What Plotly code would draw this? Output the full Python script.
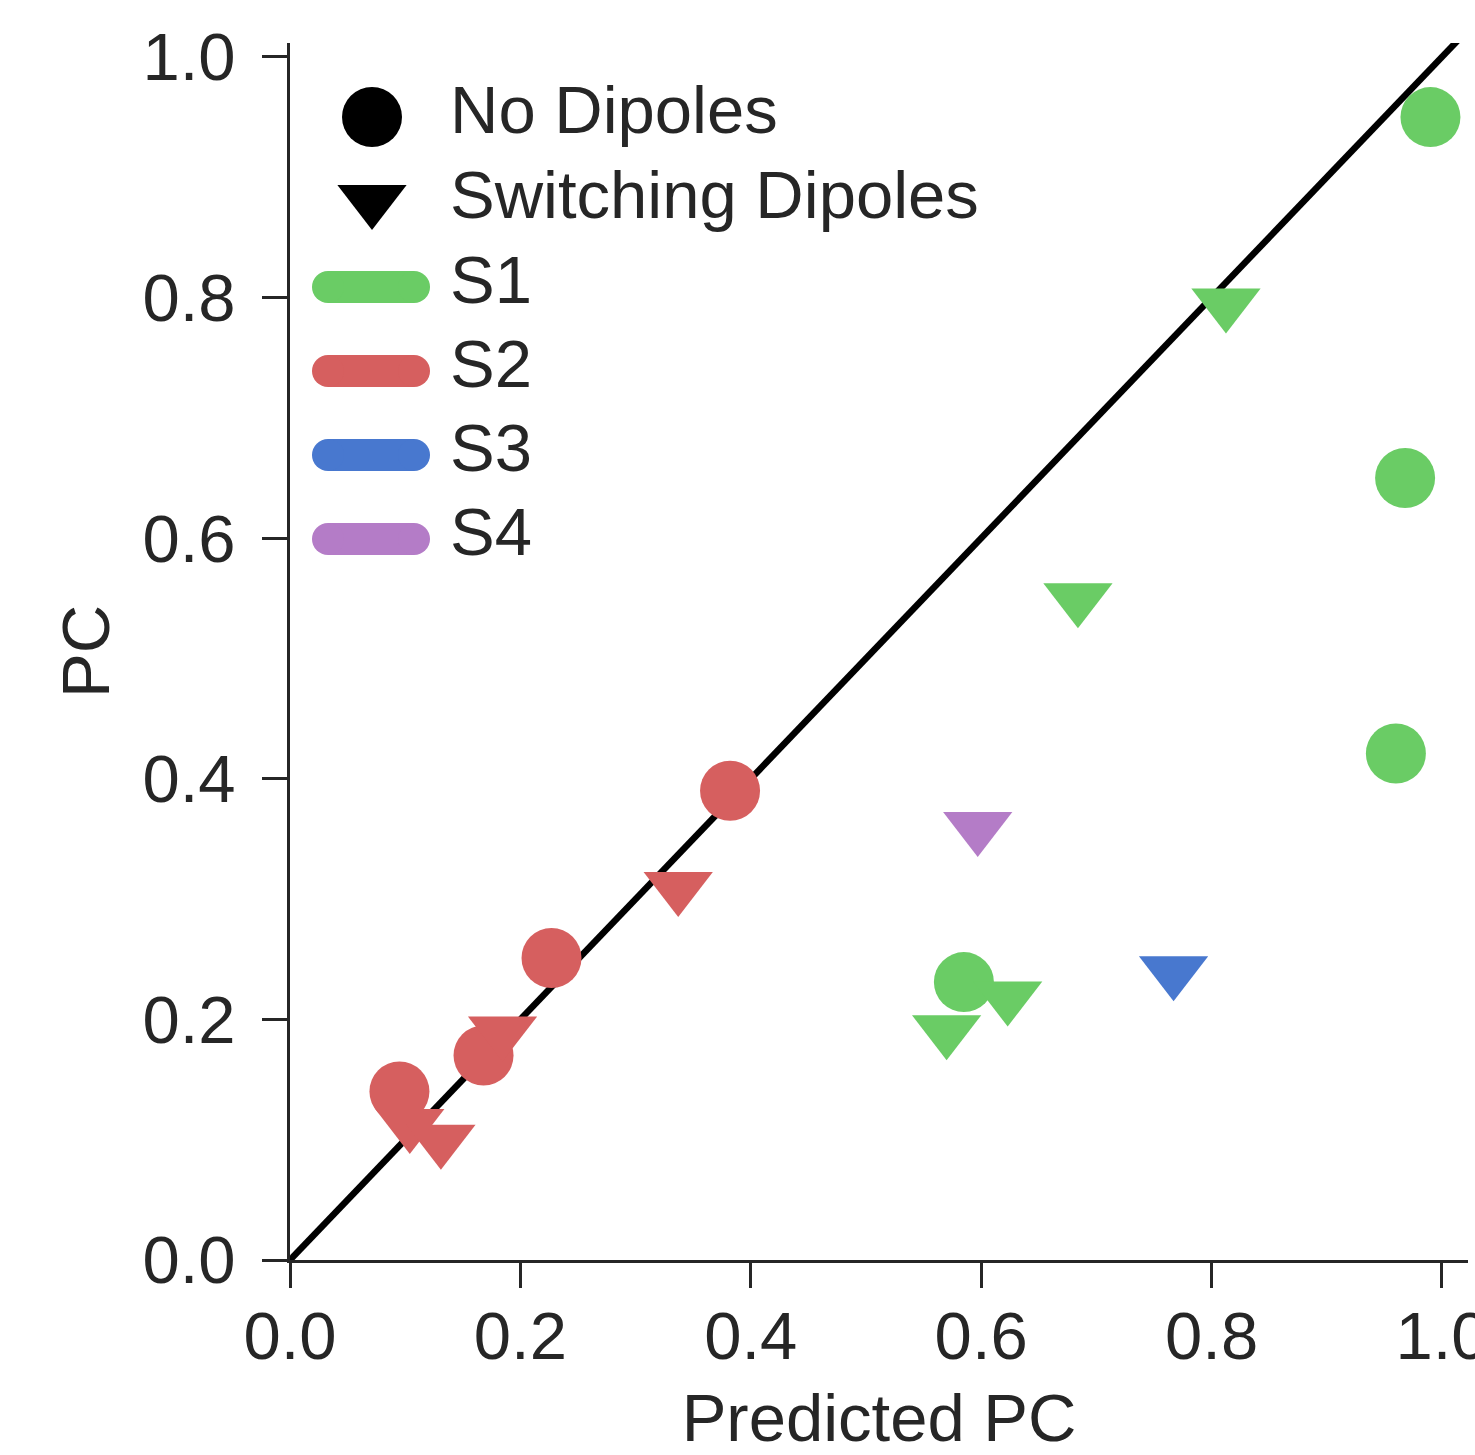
import plotly.graph_objects as go

# ---- data ----
s1_nodip_x = [0.990, 0.968, 0.960, 0.585]
s1_nodip_y = [0.950, 0.650, 0.421, 0.231]
s1_switch_x = [0.8125, 0.684, 0.570, 0.623]
s1_switch_y = [0.795, 0.550, 0.191, 0.219]

s2_nodip_x = [0.095, 0.168, 0.227, 0.382]
s2_nodip_y = [0.140, 0.170, 0.251, 0.390]
s2_switch_x = [0.104, 0.131, 0.1845, 0.337]
s2_switch_y = [0.113, 0.100, 0.190, 0.310]

s3_switch_x = [0.767]
s3_switch_y = [0.240]

s4_switch_x = [0.597]
s4_switch_y = [0.360]

identity_x = [0.0, 1.1]
identity_y = [0.0, 1.1]

series_names = ["S1", "S2", "S3", "S4"]
series_colors = ["#6ACC65", "#D65F5F", "#4878CF", "#B47CC7"]
marker_names = ["No Dipoles", "Switching Dipoles"]

tick_vals = [0.0, 0.2, 0.4, 0.6, 0.8, 1.0]
tick_text = ["0.0", "0.2", "0.4", "0.6", "0.8", "1.0"]

FONT = "Liberation Sans, Arial, Helvetica, sans-serif"
TXT = "#262626"
FS = 67
CIRC = 60
TRI = 60

fig = go.Figure()

# identity line
fig.add_trace(go.Scatter(x=identity_x, y=identity_y, mode="lines",
                         line=dict(color="black", width=6.5), showlegend=False,
                         hoverinfo="skip"))

groups = [
    (s1_nodip_x, s1_nodip_y, "circle", CIRC, 0),
    (s1_switch_x, s1_switch_y, "triangle-down", TRI, 0),
    (s2_nodip_x, s2_nodip_y, "circle", CIRC, 1),
    (s2_switch_x, s2_switch_y, "triangle-down", TRI, 1),
    (s3_switch_x, s3_switch_y, "triangle-down", TRI, 2),
    (s4_switch_x, s4_switch_y, "triangle-down", TRI, 3),
]
for gx, gy, sym, sz, ci in groups:
    fig.add_trace(go.Scatter(x=gx, y=gy, mode="markers",
                             marker=dict(symbol=sym, size=sz, color=series_colors[ci],
                                         line=dict(width=0)),
                             showlegend=False, cliponaxis=False))

# ---- custom legend drawn on an overlay axis in pixel units ----
leg_sym_x = [372]
leg_rows_y = [117, 200]
fig.add_trace(go.Scatter(x=leg_sym_x, y=[leg_rows_y[0]], xaxis="x2", yaxis="y2", mode="markers",
                         marker=dict(symbol="circle", size=CIRC, color="black"),
                         showlegend=False, hoverinfo="skip"))
fig.add_trace(go.Scatter(x=leg_sym_x, y=[leg_rows_y[1]], xaxis="x2", yaxis="y2", mode="markers",
                         marker=dict(symbol="triangle-down", size=TRI, color="black"),
                         showlegend=False, hoverinfo="skip"))
bar_x = [328, 414]
bar_rows_y = [287, 371, 455, 539]
for by, col in zip(bar_rows_y, series_colors):
    fig.add_trace(go.Scatter(x=bar_x, y=[by, by], xaxis="x2", yaxis="y2", mode="lines+markers",
                             line=dict(color=col, width=32),
                             marker=dict(symbol="circle", size=32, color=col),
                             showlegend=False, hoverinfo="skip"))

annotations = []
for name, yy in zip(marker_names, [109, 194]):
    annotations.append(dict(x=448, y=yy, xref="x2", yref="y2", text=name, showarrow=False,
                            xanchor="left", yanchor="middle",
                            font=dict(family=FONT, size=FS, color=TXT)))
for name, yy in zip(series_names, [279, 363, 447, 531]):
    annotations.append(dict(x=448, y=yy, xref="x2", yref="y2", text=name, showarrow=False,
                            xanchor="left", yanchor="middle",
                            font=dict(family=FONT, size=FS, color=TXT)))

axis_common = dict(showline=True, linewidth=3, linecolor=TXT, ticks="outside",
                   ticklen=25, tickwidth=3, tickcolor=TXT, showgrid=False, zeroline=False,
                   tickvals=tick_vals, ticktext=tick_text, automargin=False,
                   ticklabeloverflow="allow",
                   tickfont=dict(family=FONT, size=FS, color=TXT))

fig.update_layout(
    width=1475, height=1455,
    margin=dict(l=290, r=7, t=43, b=195),
    paper_bgcolor="white", plot_bgcolor="white",
    xaxis=dict(range=[0, 1.0226], ticklabelstandoff=-9,
               title=dict(text="Predicted PC", font=dict(family=FONT, size=FS, color=TXT), standoff=24),
               **axis_common),
    yaxis=dict(range=[0, 1.0116], ticklabelstandoff=13,
               title=dict(text="PC", font=dict(family=FONT, size=FS, color=TXT), standoff=12),
               **axis_common),
    xaxis2=dict(overlaying="x", range=[290, 1468], visible=False, fixedrange=True),
    yaxis2=dict(overlaying="y", range=[1260, 43], visible=False, fixedrange=True),
    annotations=annotations,
    showlegend=False,
)

fig.write_html("out.html")
